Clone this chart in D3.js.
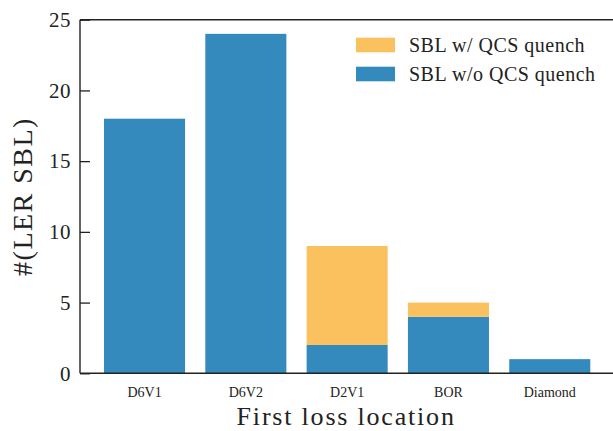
<!DOCTYPE html>
<html>
<head>
<meta charset="utf-8">
<script src="https://cdn.jsdelivr.net/npm/d3@7"></script>
<style>
  body { margin: 0; background: #fff; }
  text { font-family: "Liberation Serif", serif; fill: #222; }
</style>
</head>
<body>
<svg id="chart"></svg>
<script>
// data
const locations = ["D6V1", "D6V2", "D2V1", "BOR", "Diamond"];
const withoutQuench = [18, 24, 2, 4, 1];
const withQuench = [0, 0, 7, 1, 0];
const yTicks = [0, 5, 10, 15, 20, 25];
const seriesNames = ["SBL w/ QCS quench", "SBL w/o QCS quench"];
const seriesColors = ["#FBC15E", "#348ABD"];

const width = 613, height = 431;
const margin = {top: 19.7, right: -1.3, bottom: 57.7, left: 80};
const innerW = width - margin.left - margin.right;
const innerH = height - margin.top - margin.bottom;

const svg = d3.select("#chart")
  .attr("width", width)
  .attr("height", height);

const chart = svg.append("g")
  .attr("transform", `translate(${margin.left},${margin.top})`);

const table = locations.map((loc, i) => ({loc, without: withoutQuench[i], with: withQuench[i]}));
const stacked = d3.stack().keys(["without", "with"])(table);

const xScale = d3.scaleBand()
  .domain(locations)
  .range([0, innerW])
  .paddingInner(0.2)
  .paddingOuter(0.237);

const yScale = d3.scaleLinear()
  .domain([0, 25])
  .range([innerH, 0]);

// bars: blue bottom, orange on top
const colorByKey = {without: seriesColors[1], with: seriesColors[0]};
chart.selectAll(".layer")
  .data(stacked)
  .join("g")
  .attr("class", "layer")
  .attr("fill", d => colorByKey[d.key])
  .selectAll("rect")
  .data(d => d)
  .join("rect")
  .attr("x", d => xScale(d.data.loc))
  .attr("width", xScale.bandwidth())
  .attr("y", d => yScale(d[1]))
  .attr("height", d => yScale(d[0]) - yScale(d[1]));

// axes
const yAxis = d3.axisLeft(yScale)
  .tickValues(yTicks)
  .tickSizeInner(-10)
  .tickSizeOuter(0)
  .tickPadding(9);

const yAxisG = chart.append("g").call(yAxis);
yAxisG.select(".domain").remove();
yAxisG.selectAll("line").attr("stroke", "#222").attr("stroke-width", 1.3);
yAxisG.selectAll("text")
  .attr("font-family", "Liberation Serif")
  .attr("font-size", 21)
  .attr("letter-spacing", 0.5)
  .attr("fill", "#222");

const xAxis = d3.axisBottom(xScale).tickSize(0).tickPadding(14);
const xAxisG = chart.append("g")
  .attr("transform", `translate(0,${innerH})`)
  .call(xAxis);
xAxisG.select(".domain").remove();
xAxisG.selectAll("text")
  .attr("font-family", "Liberation Serif")
  .attr("font-size", 14)
  .attr("fill", "#222");

// spines: left, bottom, top (right edge is cut off)
const spine = (x1, y1, x2, y2) => chart.append("line")
  .attr("x1", x1).attr("y1", y1).attr("x2", x2).attr("y2", y2)
  .attr("stroke", "#222").attr("stroke-width", 1.4);
spine(0, 0, 0, innerH);
spine(0, innerH, innerW, innerH);
spine(0, 0, innerW, 0);

// axis titles
svg.append("text")
  .attr("x", margin.left + innerW / 2 - 1)
  .attr("y", 425)
  .attr("text-anchor", "middle")
  .attr("font-size", 26)
  .attr("letter-spacing", 1.8)
  .text("First loss location");

svg.append("text")
  .attr("transform", `translate(32,${margin.top + innerH / 2}) rotate(-90)`)
  .attr("text-anchor", "middle")
  .attr("font-size", 28)
  .attr("letter-spacing", 1.5)
  .text("#(LER SBL)");

// legend
const legend = svg.append("g").attr("transform", "translate(356,37.7)");
seriesNames.forEach((name, i) => {
  const row = legend.append("g").attr("transform", `translate(0,${i * 29})`);
  row.append("rect")
    .attr("width", 39)
    .attr("height", 14.6)
    .attr("fill", seriesColors[i]);
  row.append("text")
    .attr("x", 53)
    .attr("y", 14.6)
    .attr("font-size", 20)
    .attr("letter-spacing", 0.5)
    .text(name);
});
</script>
</body>
</html>
